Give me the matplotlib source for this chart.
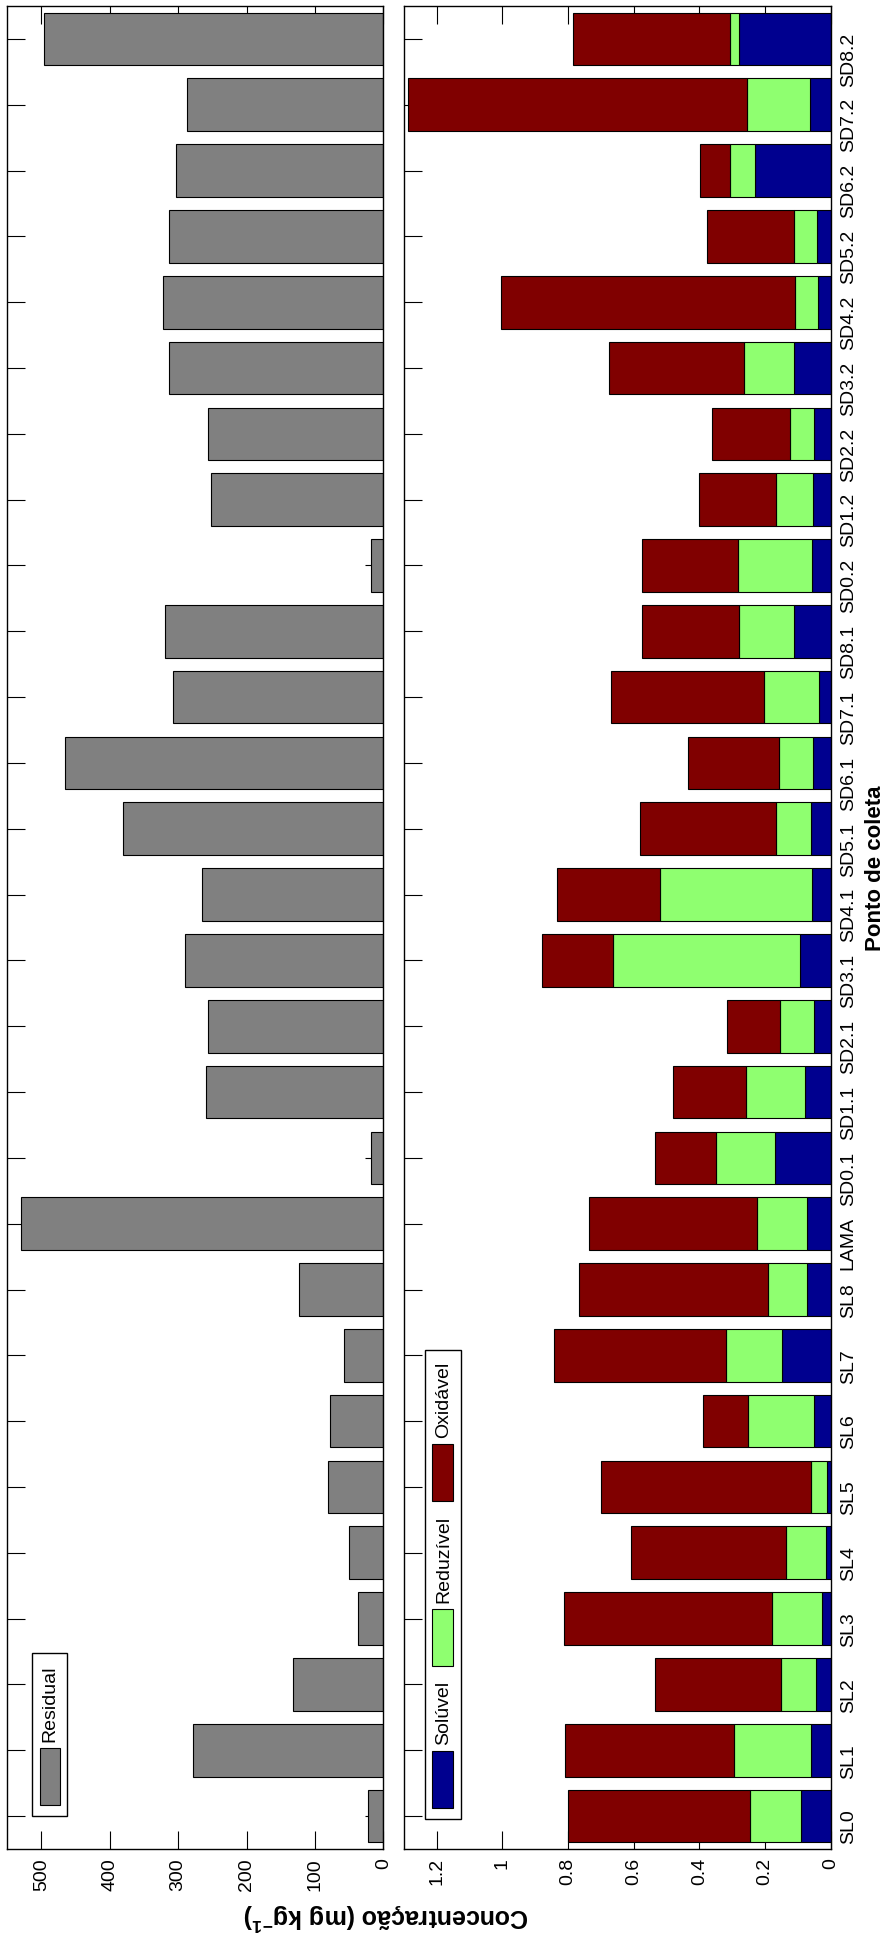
import numpy as np
import matplotlib
matplotlib.use('Agg')
import matplotlib.pyplot as plt
from matplotlib.patches import Rectangle

plt.rcParams['font.family'] = ['Liberation Sans', 'DejaVu Sans']
plt.rcParams['mathtext.fontset'] = 'custom'
plt.rcParams['mathtext.rm'] = 'Liberation Sans'
plt.rcParams['mathtext.bf'] = 'Liberation Sans:bold'

pontos = ['SL0', 'SL1', 'SL2', 'SL3', 'SL4', 'SL5', 'SL6', 'SL7', 'SL8', 'LAMA',
          'SD0.1', 'SD1.1', 'SD2.1', 'SD3.1', 'SD4.1', 'SD5.1', 'SD6.1', 'SD7.1', 'SD8.1',
          'SD0.2', 'SD1.2', 'SD2.2', 'SD3.2', 'SD4.2', 'SD5.2', 'SD6.2', 'SD7.2', 'SD8.2']

residual = [22.8, 277.8, 132, 37, 49.7, 81, 78, 57, 123, 529.7,
            18, 260, 257, 289.5, 264.6, 380.5, 466, 307.5, 320,
            18, 252, 257, 313, 322, 313, 303.5, 287, 497]

soluvel = [0.090, 0.060, 0.044, 0.027, 0.014, 0.011, 0.051, 0.148, 0.071, 0.073,
           0.169, 0.079, 0.050, 0.093, 0.056, 0.060, 0.053, 0.037, 0.112,
           0.057, 0.054, 0.050, 0.112, 0.038, 0.043, 0.230, 0.062, 0.278]
reduzivel = [0.156, 0.235, 0.108, 0.153, 0.121, 0.048, 0.201, 0.172, 0.121, 0.152,
             0.181, 0.179, 0.105, 0.570, 0.463, 0.108, 0.103, 0.166, 0.166,
             0.226, 0.112, 0.073, 0.153, 0.072, 0.069, 0.076, 0.192, 0.028]
oxidavel = [0.554, 0.513, 0.383, 0.632, 0.472, 0.642, 0.137, 0.522, 0.575, 0.510,
            0.186, 0.222, 0.160, 0.217, 0.315, 0.412, 0.280, 0.467, 0.296,
            0.291, 0.235, 0.238, 0.409, 0.894, 0.264, 0.091, 1.035, 0.478]

cor_res = '#808080'
cores = ['#00008F', '#8FFF70', '#800000']

W, H = 887., 1937.
fig = plt.figure(figsize=(W / 100, H / 100), dpi=100)

def fx(px):
    return px / W

def fy(py):
    # pixel measured from the top
    return 1 - py / H

ax1 = fig.add_axes([fx(7.3), fy(1849), fx(376), 1843 / H])
ax2 = fig.add_axes([fx(404), fy(1849), fx(426.7), 1843 / H])

pos = np.arange(1, len(pontos) + 1)

ax1.barh(pos, residual, height=0.8, color=cor_res, edgecolor='k', linewidth=0.8)
ax1.set_xlim(550, 0)
ax1.set_xticks([0, 100, 200, 300, 400, 500])

esq = np.zeros(len(pontos))
for vals, c in zip([soluvel, reduzivel, oxidavel], cores):
    ax2.barh(pos, vals, left=esq, height=0.8, color=c, edgecolor='k', linewidth=0.8)
    esq = esq + np.array(vals)
ax2.set_xlim(1.3, 0)
ax2.set_xticks([0, 0.2, 0.4, 0.6, 0.8, 1, 1.2])
ax2.set_xticklabels(['0', '0.2', '0.4', '0.6', '0.8', '1', '1.2'])

for ax in [ax1, ax2]:
    ax.set_ylim(0.5, 28.5)
    ax.set_yticks(pos)
    ax.set_axisbelow(True)
    ax.tick_params(direction='in', length=13, width=0.8, top=True, bottom=True,
                   left=True, right=True, labelsize=14, pad=6.5)
    ax.tick_params(axis='x', labelrotation=90)
    for s in ax.spines.values():
        s.set_linewidth(1.0)

ax1.tick_params(axis='y', labelleft=False, labelright=False)
ax2.set_yticklabels(pontos)
ax2.tick_params(axis='y', labelleft=False, labelright=True, labelrotation=90)

fig.text(fx(386), fy(1917), 'Concentração (mg kg$^{\\mathbf{-1}}$)', rotation=180,
         ha='center', va='center', fontsize=18, fontweight='bold')
fig.text(fx(876), fy(868), 'Ponto de coleta', rotation=90,
         ha='center', va='center', fontsize=16, fontweight='bold')

# legenda do painel residual
fig.patches.append(Rectangle((fx(32.3), fy(1816)), fx(34.7), 162.7 / H, transform=fig.transFigure,
                             facecolor='white', edgecolor='k', linewidth=1.0))
fig.patches.append(Rectangle((fx(39.7), fy(1805)), fx(20.3), 56.7 / H, transform=fig.transFigure,
                             facecolor=cor_res, edgecolor='k', linewidth=0.8))
fig.text(fx(50), fy(1742), 'Residual', rotation=90, ha='center', va='bottom', fontsize=14)

# legenda das fracoes
fig.patches.append(Rectangle((fx(425.3), fy(1819)), fx(35.4), 469 / H, transform=fig.transFigure,
                             facecolor='white', edgecolor='k', linewidth=1.0))
nomes = ['Solúvel', 'Reduzível', 'Oxidável']
bases = [1808, 1666, 1501]
for nome, c, b in zip(nomes, cores, bases):
    fig.patches.append(Rectangle((fx(432), fy(b)), fx(20.7), 57 / H, transform=fig.transFigure,
                                 facecolor=c, edgecolor='k', linewidth=0.8))
    fig.text(fx(444), fy(b - 63), nome, rotation=90, ha='center', va='bottom', fontsize=14)

plt.savefig('out.png', dpi=100)
